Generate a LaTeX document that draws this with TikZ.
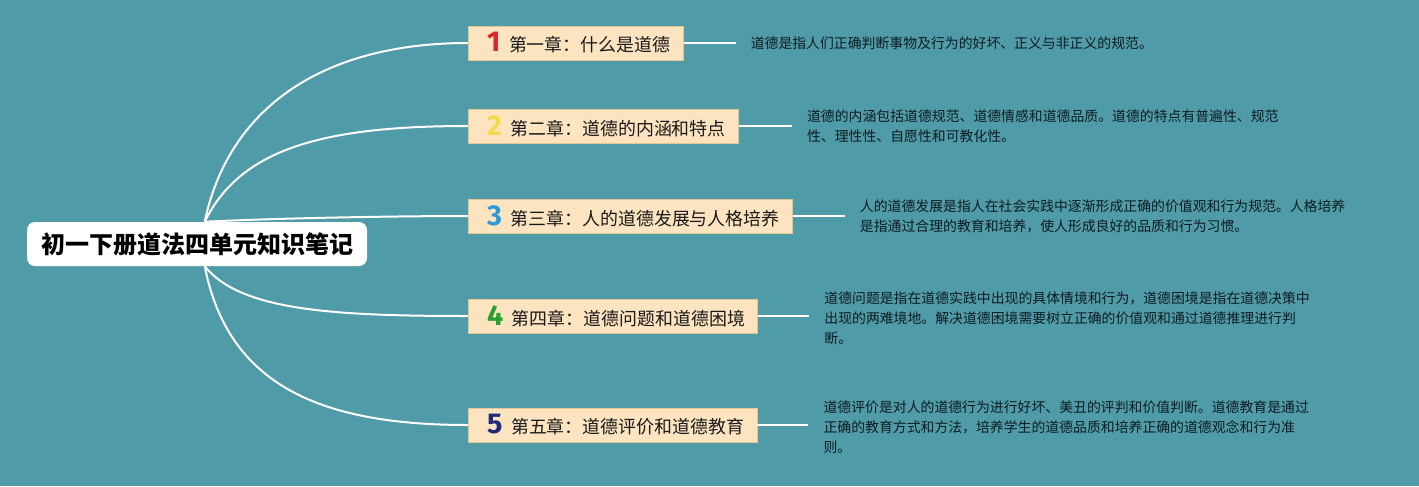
\documentclass[tikz,border=0pt]{standalone}
\usepackage{fontspec}
\usetikzlibrary{calc}
\setmainfont{Noto Sans CJK SC}
\newfontfamily\numfont{Fira Sans}
\definecolor{bg}{HTML}{4F9BA8}
\definecolor{boxfill}{HTML}{FCE4C1}
\definecolor{boxline}{HTML}{E6C593}
\definecolor{textdark}{HTML}{1A1A1A}
\definecolor{desctext}{HTML}{0E1C20}
\definecolor{numred}{HTML}{E0222A}
\definecolor{numyellow}{HTML}{F4DA4A}
\definecolor{numblue}{HTML}{2A9BDA}
\definecolor{numgreen}{HTML}{27A02E}
\definecolor{numnavy}{HTML}{1F2B78}
\newcommand\numtag[2]{{\numfont\bfseries\fontsize{21.5pt}{21.5pt}\selectfont\color{#1}#2}}
\pgfdeclarelayer{bgfill}
\pgfdeclarelayer{lines}
\pgfsetlayers{bgfill,lines,main}
\begin{document}
\begin{tikzpicture}[x=0.75pt,y=-0.75pt,
  chap/.style={draw=boxline, fill=boxfill, line width=0.6pt, minimum height=25.5pt,
    inner xsep=9.5pt, inner ysep=0pt, anchor=west,
    font=\fontsize{13.45pt}{16pt}\selectfont, text=textdark},
  desc/.style={anchor=west, align=left, inner xsep=11.25pt, inner ysep=0pt,
    font=\fontsize{10.4pt}{15pt}\selectfont, text=desctext},
  rootbox/.style={fill=white, rounded corners=6pt, minimum height=33pt, minimum width=255pt,
    inner xsep=9pt, inner ysep=0pt, font=\bfseries\fontsize{18pt}{20pt}\selectfont, text=black},
  link/.style={draw=white, line width=1.5pt}]
\begin{pgfonlayer}{bgfill}
\fill[bg] (0,0) rectangle (1419,486);
\end{pgfonlayer}
\useasboundingbox (0,0) rectangle (1419,486);

\node[rootbox] (root) at (197,244) {初一下册道法四单元知识笔记};
\coordinate (rt) at ($(root.north west)+(178,0)$);
\coordinate (rb) at ($(root.south west)+(178,0)$);

\node[chap] (c1) at (468,43) {\hspace*{4.5pt}\numtag{numred}{1}\hspace{6.5pt}第一章：什么是道德};
\node[chap] (c2) at (468,126) {\hspace*{4.5pt}\numtag{numyellow}{2}\hspace{6.5pt}第二章：道德的内涵和特点};
\node[chap] (c3) at (468,216) {\hspace*{4.5pt}\numtag{numblue}{3}\hspace{6.5pt}第三章：人的道德发展与人格培养};
\node[chap] (c4) at (468,316) {\hspace*{4.5pt}\numtag{numgreen}{4}\hspace{6.5pt}第四章：道德问题和道德困境};
\node[chap] (c5) at (468,425) {\hspace*{4.5pt}\numtag{numnavy}{5}\hspace{6.5pt}第五章：道德评价和道德教育};

\begin{pgfonlayer}{lines}
\draw[link] (rt) .. controls (228,110) and (320,43) .. (c1.west);
\draw[link] (rt) .. controls (240,150) and (320,126) .. (c2.west);
\draw[link] (rt) .. controls (280,218) and (400,216) .. (c3.west);
\draw[link] (rb) .. controls (240,310) and (330,316) .. (c4.west);
\draw[link] (rb) .. controls (228,385) and (320,425) .. (c5.west);
\end{pgfonlayer}

\node[desc] (d1) at ($(c1.east)+(52,0)$) {道德是指人们正确判断事物及行为的好坏、正义与非正义的规范。};
\node[desc] (d2) at ($(c2.east)+(53,0)$) {道德的内涵包括道德规范、道德情感和道德品质。道德的特点有普遍性、规范\\性、理性性、自愿性和可教化性。};
\node[desc] (d3) at ($(c3.east)+(52,0)$) {人的道德发展是指人在社会实践中逐渐形成正确的价值观和行为规范。人格培养\\是指通过合理的教育和培养，使人形成良好的品质和行为习惯。};
\node[desc] (d4) at ($(c4.east)+(51,2)$) {道德问题是指在道德实践中出现的具体情境和行为，道德困境是指在道德决策中\\出现的两难境地。解决道德困境需要树立正确的价值观和通过道德推理进行判\\断。};
\node[desc] (d5) at ($(c5.east)+(51,2)$) {道德评价是对人的道德行为进行好坏、美丑的评判和价值判断。道德教育是通过\\正确的教育方式和方法，培养学生的道德品质和培养正确的道德观念和行为准\\则。};

\draw[link] (c1.east) -- (c1.east -| d1.west);
\draw[link] (c2.east) -- (c2.east -| d2.west);
\draw[link] (c3.east) -- (c3.east -| d3.west);
\draw[link] (c4.east) -- (c4.east -| d4.west);
\draw[link] (c5.east) -- (c5.east -| d5.west);
\end{tikzpicture}
\end{document}
